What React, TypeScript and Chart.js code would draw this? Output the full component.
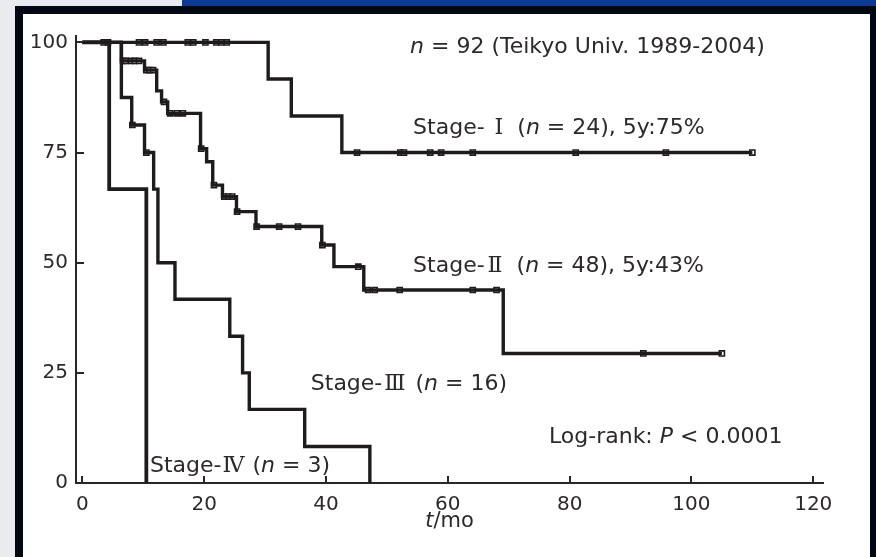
import { useEffect, useRef } from 'react';
import { Chart, registerables } from 'chart.js';

Chart.register(...registerables);

// ---- data ----
const X_TICKS = [0, 20, 40, 60, 80, 100, 120];
const Y_TICKS = [0, 25, 50, 75, 100];

// Kaplan-Meier curves: event times (months) and survival (%) after each event
const STAGE1_T = [0, 30.5, 34.3, 42.6, 110];
const STAGE1_S = [100, 91.7, 83.3, 75, 75];
const STAGE1_CENSOR = [3.5, 4.2, 9.3, 10.3, 12.2, 13.3, 17.3, 18.2, 20.2, 22.0, 22.8, 23.7, 45.1, 52.2, 52.8, 57.1, 58.9, 64.1, 81.0, 95.8, 110];

const STAGE2_T = [0, 6.4, 10.2, 12.2, 13.0, 14.0, 19.4, 20.4, 21.4, 23.0, 25.3, 28.5, 39.3, 41.3, 46.2, 69.1, 105];
const STAGE2_S = [100, 95.8, 93.7, 89.0, 86.5, 83.9, 75.9, 72.9, 67.6, 65.0, 61.6, 58.2, 54.0, 49.1, 43.8, 29.4, 29.4];
const STAGE2_CENSOR = [6.7, 7.1, 8.0, 8.6, 9.3, 10.5, 11.0, 11.6, 13.4, 14.4, 15.5, 16.5, 19.5, 21.6, 23.3, 24.0, 24.6, 25.4, 28.6, 32.3, 35.4, 39.4, 45.3, 46.9, 48.0, 52.1, 64.1, 68.0, 92.1, 105];

const STAGE3_T = [0, 6.4, 8.1, 10.2, 11.7, 12.4, 15.2, 24.2, 26.3, 27.4, 36.5, 47.2];
const STAGE3_S = [100, 87.5, 81.25, 75, 66.7, 50, 41.7, 33.3, 25, 16.7, 8.3, 0];
const STAGE3_CENSOR = [8.2, 10.5];

const STAGE4_T = [0, 4.4, 10.5];
const STAGE4_S = [100, 66.7, 0];

const LINE = '#1f1b1c';
const TEXT = '#2e2828';
const FONT = "'DejaVu Sans', Verdana, sans-serif";
const NUM_FONT = "'DejaVu Serif', 'Liberation Serif', serif";

type Seg = { t: string; it?: boolean; roman?: boolean; pre?: number; post?: number };
// annotations anchored in data coordinates (left, baseline)
const NOTES: { x: number; y: number; segs: Seg[] }[] = [
  { x: 53.8, y: 97.6, segs: [{ t: 'n', it: true }, { t: ' = 92 (Teikyo Univ. 1989-2004)' }] },
  { x: 54.3, y: 79.3, segs: [{ t: 'Stage-' }, { t: '\u2160', roman: true, pre: 10, post: 14 }, { t: '(' }, { t: 'n', it: true }, { t: ' = 24), 5y:75%' }] },
  { x: 54.3, y: 47.9, segs: [{ t: 'Stage-' }, { t: '\u2161', roman: true, pre: 3, post: 14 }, { t: '(' }, { t: 'n', it: true }, { t: ' = 48), 5y:43%' }] },
  { x: 37.5, y: 21.1, segs: [{ t: 'Stage-' }, { t: '\u2162', roman: true, pre: 2, post: 10 }, { t: '(' }, { t: 'n', it: true }, { t: ' = 16)' }] },
  { x: 76.6, y: 9.1, segs: [{ t: 'Log-rank: ' }, { t: 'P', it: true }, { t: ' < 0.0001' }] },
  { x: 11.1, y: 2.6, segs: [{ t: 'Stage-' }, { t: '\u2163', roman: true, pre: 1, post: 8 }, { t: '(' }, { t: 'n', it: true }, { t: ' = 3)' }] },
];

function survivalAt(T: number[], S: number[], t: number) {
  let v = S[0];
  for (let i = 0; i < T.length; i++) if (t >= T[i]) v = S[i];
  return v;
}

const curve = (T: number[], S: number[], w = 3.4) => ({
  type: 'line' as const,
  data: T.map((t, i) => ({ x: t, y: S[i] })),
  stepped: 'before' as const,
  borderColor: LINE,
  borderWidth: w,
  pointRadius: 0,
  fill: false,
  borderJoinStyle: 'miter' as const,
  clip: false as any,
});

const censor = (T: number[], S: number[], C: number[]) => ({
  type: 'scatter' as const,
  data: C.map((t) => ({ x: t, y: survivalAt(T, S, t) })),
  showLine: false,
  pointStyle: 'rect' as const,
  pointRadius: 3.6,
  pointBackgroundColor: '#ffffff',
  pointBorderColor: LINE,
  pointBorderWidth: 1.6,
  clip: false as any,
});

function drawSegs(ctx: CanvasRenderingContext2D, x: number, y: number, segs: Seg[], size: number) {
  let cx = x;
  ctx.textBaseline = 'alphabetic';
  ctx.textAlign = 'left';
  ctx.fillStyle = TEXT;
  for (const s of segs) {
    ctx.font = s.roman ? `${size}px ${NUM_FONT}` : `${s.it ? 'italic ' : ''}${size}px ${FONT}`;
    cx += s.pre || 0;
    ctx.fillText(s.t, cx, y);
    cx += ctx.measureText(s.t).width + (s.post || 0);
  }
}

const decor = {
  id: 'decor',
  afterDraw(chart: any) {
    const { ctx, chartArea, scales } = chart;
    const xs = scales.x;
    const ys = scales.y;
    ctx.save();
    // inward tick marks
    ctx.strokeStyle = '#2a2626';
    ctx.lineWidth = 2;
    ctx.beginPath();
    for (const v of X_TICKS) {
      const px = Math.round(xs.getPixelForValue(v));
      ctx.moveTo(px, chartArea.bottom);
      ctx.lineTo(px, chartArea.bottom - 7);
    }
    for (const v of Y_TICKS) {
      const py = Math.round(ys.getPixelForValue(v));
      ctx.moveTo(chartArea.left, py);
      ctx.lineTo(chartArea.left + 8, py);
    }
    ctx.stroke();
    // annotations
    for (const n of NOTES) {
      drawSegs(ctx, xs.getPixelForValue(n.x), ys.getPixelForValue(n.y), n.segs, 22);
    }
    // x axis title t/mo
    ctx.font = `italic 21px ${FONT}`;
    const w1 = ctx.measureText('t').width;
    ctx.font = `21px ${FONT}`;
    const w2 = ctx.measureText('/mo').width;
    const cx = (chartArea.left + chartArea.right) / 2 - (w1 + w2) / 2;
    drawSegs(ctx, cx, chartArea.bottom + 44, [{ t: 't', it: true }, { t: '/mo' }], 21);
    ctx.restore();
  },
};

export default function App() {
  const ref = useRef<HTMLCanvasElement>(null);
  useEffect(() => {
    if (!ref.current) return;
    const chart = new Chart(ref.current, {
      type: 'line',
      data: {
        datasets: [
          curve(STAGE1_T, STAGE1_S),
          curve(STAGE2_T, STAGE2_S),
          curve(STAGE3_T, STAGE3_S),
          curve(STAGE4_T, STAGE4_S, 3.8),
          censor(STAGE1_T, STAGE1_S, STAGE1_CENSOR),
          censor(STAGE2_T, STAGE2_S, STAGE2_CENSOR),
          censor(STAGE3_T, STAGE3_S, STAGE3_CENSOR),
        ] as any,
      },
      options: {
        animation: false,
        responsive: false,
        devicePixelRatio: 1,
        layout: { padding: { top: 36, right: 53, left: 0, bottom: 0 } },
        plugins: { legend: { display: false }, tooltip: { enabled: false } },
        scales: {
          x: {
            type: 'linear',
            min: -1.05,
            max: 121.6,
            afterBuildTicks: (s: any) => { s.ticks = X_TICKS.map((v) => ({ value: v })); },
            afterFit: (s: any) => { s.height = 74; },
            grid: { display: false, drawTicks: false },
            border: { display: true, color: '#2a2626', width: 2 },
            ticks: { padding: 10, color: TEXT, font: { family: FONT, size: 20 }, maxRotation: 0, autoSkip: false, callback: (v: any) => String(v) },
          },
          y: {
            type: 'linear',
            min: 0,
            max: 101.45,
            afterBuildTicks: (s: any) => { s.ticks = Y_TICKS.map((v) => ({ value: v })); },
            afterFit: (s: any) => { s.width = 76; },
            grid: { display: false, drawTicks: false },
            border: { display: true, color: '#2a2626', width: 2 },
            ticks: { padding: 8, color: TEXT, font: { family: FONT, size: 20 }, autoSkip: false, callback: (v: any) => String(v) },
          },
        },
      },
      plugins: [decor],
    });
    return () => chart.destroy();
  }, []);

  return (
    <div style={{ position: 'fixed', left: 0, top: 0, width: 876, height: 557, background: '#e9ebee', overflow: 'hidden' }}>
      <div style={{ position: 'absolute', left: 182, top: 0, width: 694, height: 6, background: '#0a3a94' }} />
      <div style={{ position: 'absolute', left: 15, top: 6, width: 861, height: 551, background: '#020714' }} />
      <div style={{ position: 'absolute', left: 23, top: 14, width: 847, height: 543, background: '#ffffff' }} />
      <canvas ref={ref} width={876} height={557} style={{ position: 'absolute', left: 0, top: 0, width: 876, height: 557 }} />
    </div>
  );
}
